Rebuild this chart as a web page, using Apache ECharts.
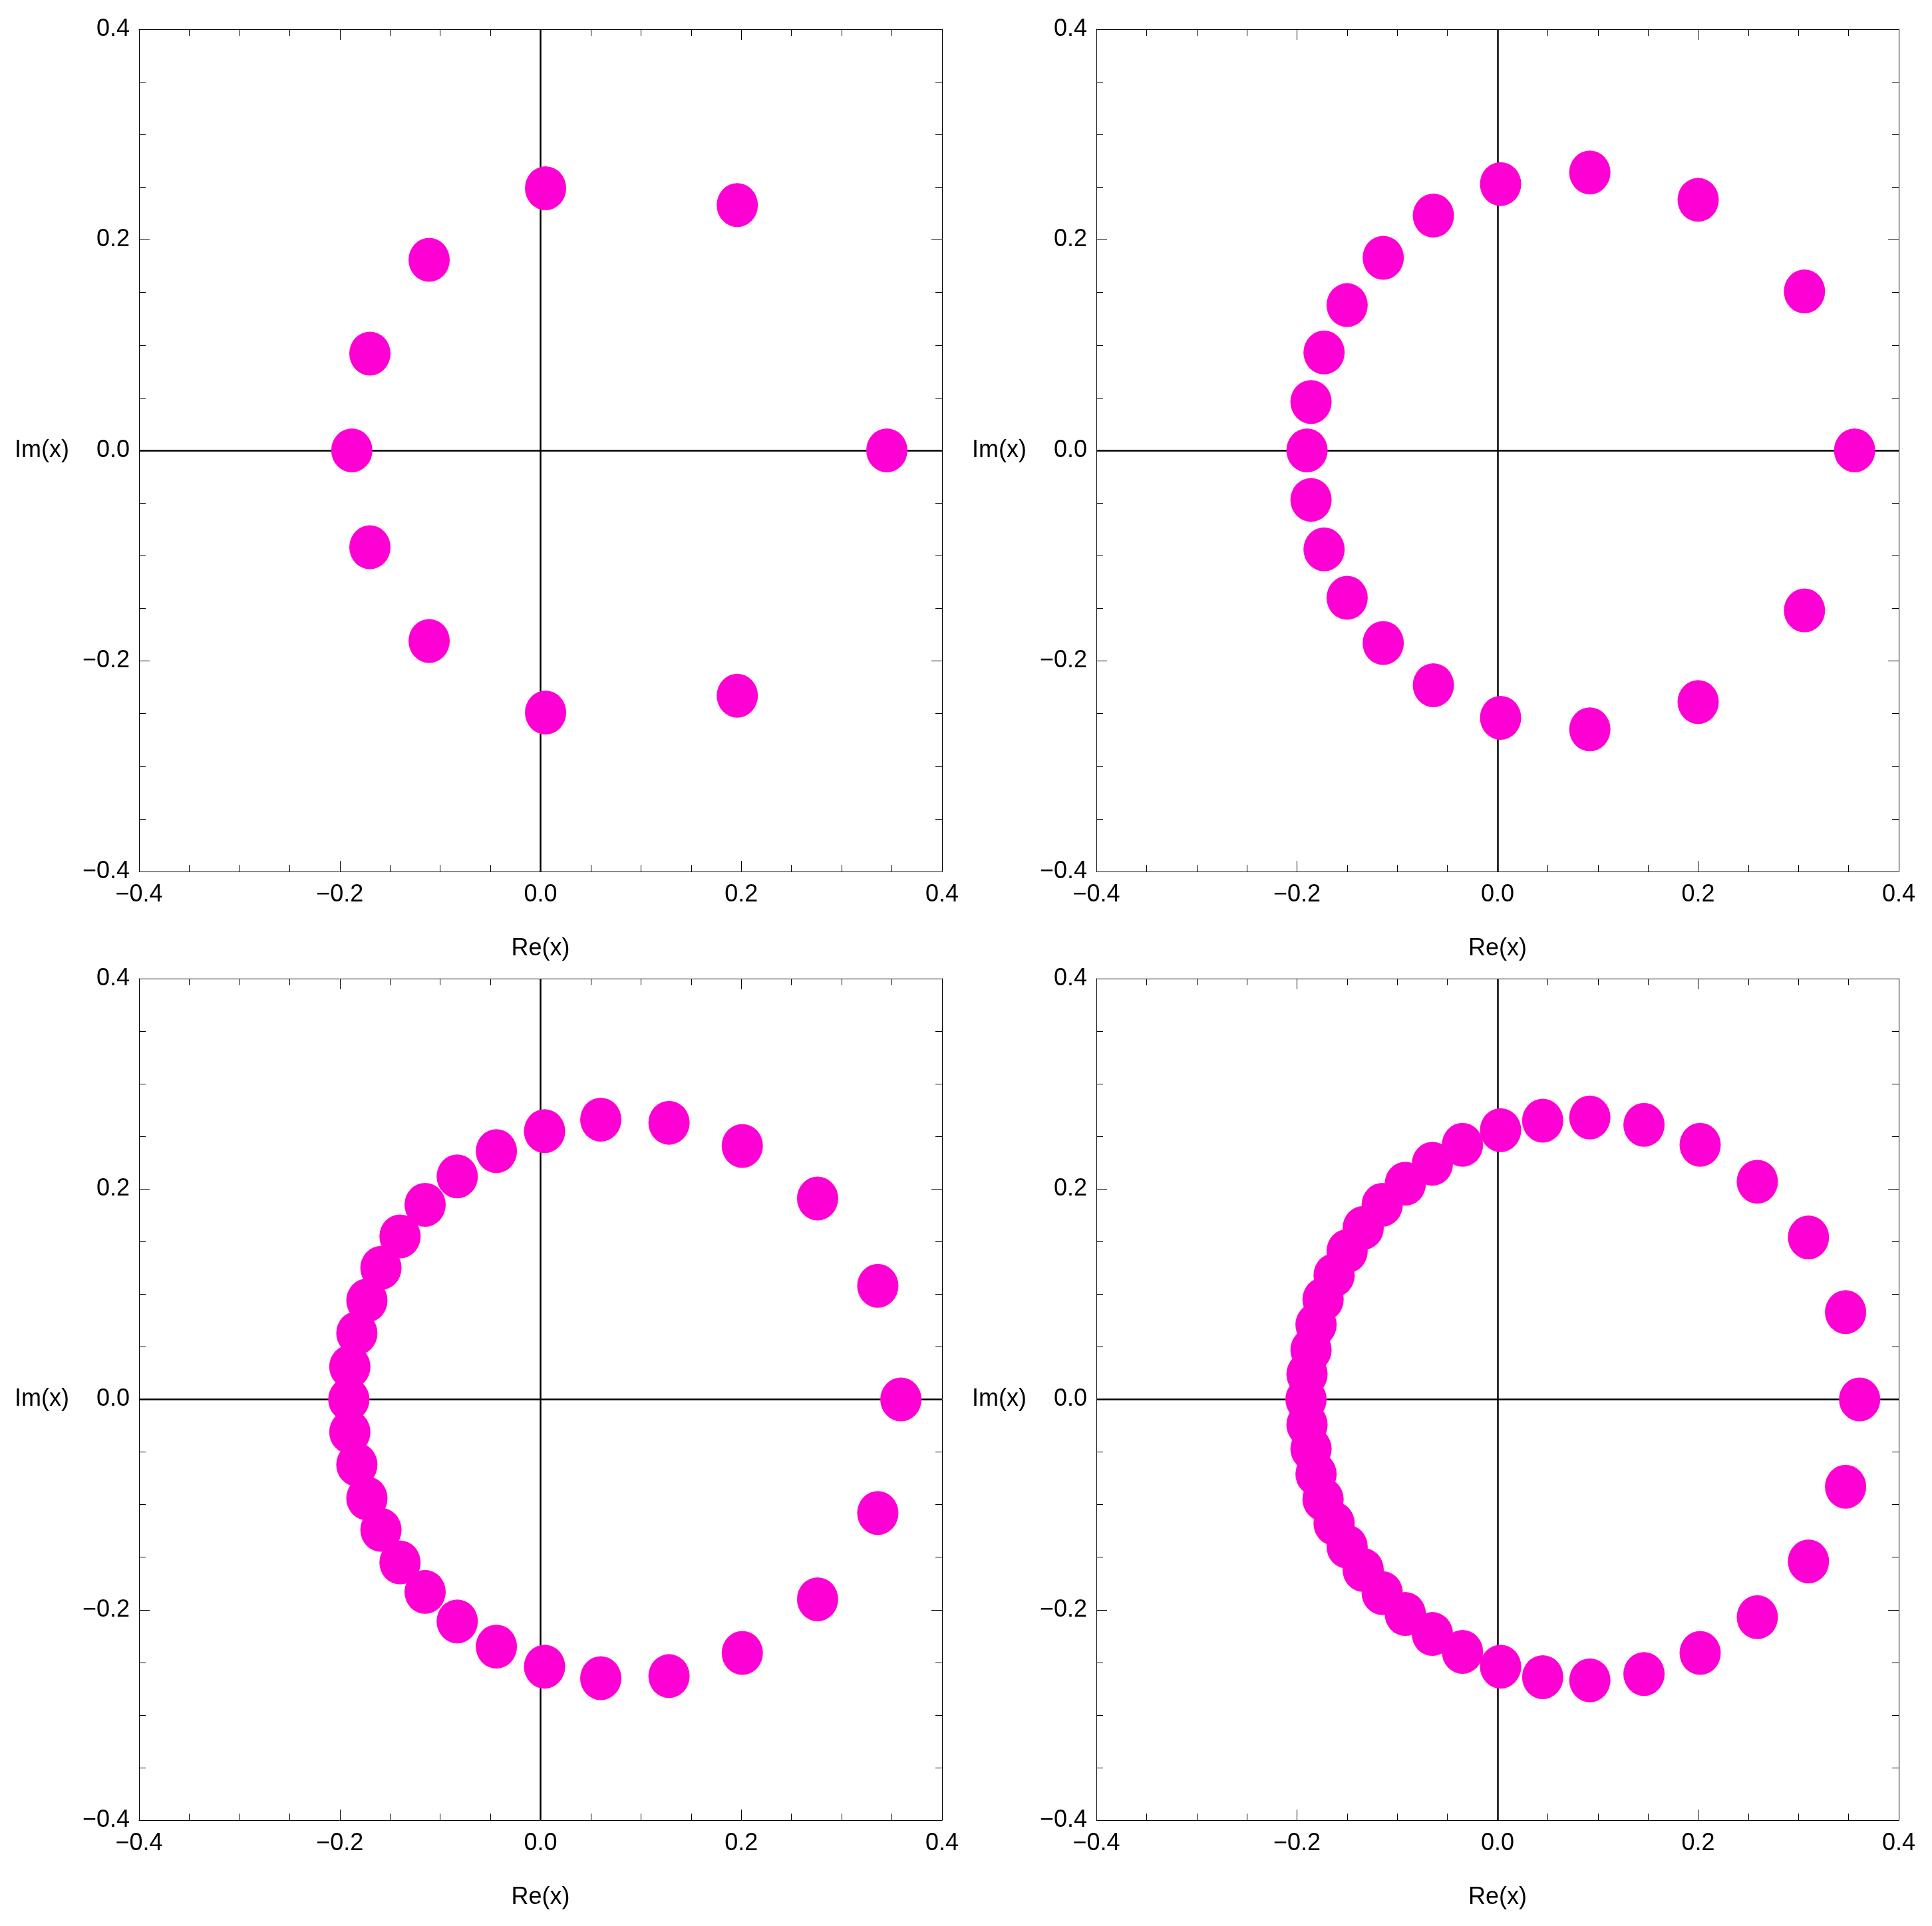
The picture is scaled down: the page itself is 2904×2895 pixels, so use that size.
<!DOCTYPE html>
<html>
<head>
<meta charset="utf-8">
<script src="https://cdn.jsdelivr.net/npm/echarts@6/dist/echarts.min.js"></script>
<style>
html,body{margin:0;padding:0;background:#fff;}
#chart{width:2904px;height:2895px;}
</style>
</head>
<body>
<div id="chart"></div>
<script>
// ---- data ----
const axisTicks = [-0.4, -0.2, 0.0, 0.2, 0.4];
const xLabel = 'Re(x)';
const yLabel = 'Im(x)';

const re10 = [0.345, 0.196, 0.005, -0.111, -0.170, -0.188, -0.170, -0.111, 0.005, 0.196];
const im10 = [0.000, 0.233, 0.249, 0.181, 0.092, 0.000, -0.092, -0.181, -0.249, -0.233];

const re20 = [0.356, 0.306, 0.200, 0.092, 0.003, -0.064, -0.114, -0.150, -0.173, -0.186, -0.190,
              -0.186, -0.173, -0.150, -0.114, -0.064, 0.003, 0.092, 0.200, 0.306];
const im20 = [0.000, 0.151, 0.238, 0.264, 0.253, 0.223, 0.183, 0.138, 0.093, 0.046, 0.000,
              -0.047, -0.094, -0.140, -0.183, -0.223, -0.254, -0.265, -0.239, -0.152];

const re30 = [0.359, 0.336, 0.276, 0.201, 0.128, 0.060, 0.004, -0.044, -0.083, -0.115, -0.140,
              -0.159, -0.173, -0.183, -0.190, -0.191, -0.190, -0.183, -0.173, -0.159, -0.140,
              -0.115, -0.083, -0.044, 0.004, 0.060, 0.128, 0.201, 0.276, 0.336];
const im30 = [0.000, 0.108, 0.191, 0.241, 0.263, 0.266, 0.255, 0.236, 0.212, 0.185, 0.155,
              0.125, 0.094, 0.063, 0.031, 0.000, -0.031, -0.062, -0.094, -0.124, -0.155,
              -0.183, -0.211, -0.235, -0.254, -0.265, -0.263, -0.241, -0.190, -0.108];

const re40 = [0.361, 0.347, 0.310, 0.259, 0.202, 0.146, 0.092, 0.045, 0.003, -0.035, -0.065,
              -0.092, -0.115, -0.134, -0.150, -0.163, -0.174, -0.181, -0.186, -0.190, -0.191,
              -0.190, -0.186, -0.181, -0.174, -0.163, -0.150, -0.134, -0.115, -0.092, -0.065,
              -0.035, 0.003, 0.045, 0.092, 0.146, 0.202, 0.259, 0.310, 0.347];
const im40 = [0.000, 0.083, 0.154, 0.207, 0.242, 0.261, 0.268, 0.265, 0.256, 0.242, 0.224,
              0.205, 0.185, 0.163, 0.141, 0.118, 0.095, 0.071, 0.047, 0.024, 0.000,
              -0.024, -0.047, -0.071, -0.095, -0.118, -0.140, -0.162, -0.184, -0.204, -0.223,
              -0.240, -0.254, -0.264, -0.267, -0.261, -0.241, -0.207, -0.154, -0.083];

const panels = [[re10, im10], [re20, im20], [re30, im30], [re40, im40]];

// ---- layout / style ----
const FONT = '"Liberation Sans", Arial, sans-serif';
const gridBoxes = [
  {left: 209, top: 44, width: 1207, height: 1266},
  {left: 1648, top: 44, width: 1206, height: 1266},
  {left: 209, top: 1471, width: 1207, height: 1265},
  {left: 1648, top: 1471, width: 1206, height: 1265}
];
const DOT = '#ff00d4';
const frameLine = {color: '#000', width: 1};

function fmt(v) {
  if (Math.abs(v) < 1e-9) return '0.0';
  return (v < 0 ? '\u2212' : '') + Math.abs(v).toFixed(1);
}

function baseAxis(gi, pos, showLabel) {
  return {
    type: 'value', gridIndex: gi, position: pos,
    min: axisTicks[0], max: axisTicks[axisTicks.length - 1],
    interval: axisTicks[1] - axisTicks[0],
    axisLine: {show: true, onZero: false, lineStyle: frameLine},
    axisTick: {show: true, inside: true, length: 16, lineStyle: frameLine},
    minorTick: {show: true, splitNumber: 4, length: 10, lineStyle: frameLine},
    splitLine: {show: false}, minorSplitLine: {show: false},
    axisLabel: {show: showLabel, fontSize: 36, color: '#000', fontFamily: FONT,
                formatter: fmt, showMinLabel: true, showMaxLabel: true, hideOverlap: false}
  };
}

const grid = [], xAxis = [], yAxis = [], series = [];
gridBoxes.forEach((b, i) => {
  grid.push(Object.assign({containLabel: false, show: false}, b));
  const xb = baseAxis(i, 'bottom', true);
  xb.axisLabel.margin = 17;
  Object.assign(xb, {name: xLabel, nameLocation: 'middle', nameGap: 98,
    nameTextStyle: {fontSize: 36, color: '#000', fontFamily: FONT}});
  const xt = baseAxis(i, 'top', false);
  const yl = baseAxis(i, 'left', true);
  yl.axisLabel.margin = 14;
  Object.assign(yl, {name: yLabel, nameLocation: 'middle', nameGap: 105, nameRotate: 0,
    nameTextStyle: {fontSize: 36, color: '#000', fontFamily: FONT}});
  const yr = baseAxis(i, 'right', false);
  xAxis.push(xb, xt);
  yAxis.push(yl, yr);
  const xi = 2 * i, yi = 2 * i;
  // zero axes
  series.push({
    type: 'scatter', xAxisIndex: xi, yAxisIndex: yi, data: [], z: 1, silent: true,
    markLine: {silent: true, symbol: 'none', animation: false,
      label: {show: false},
      lineStyle: {color: '#000', width: 2.5, type: 'solid'},
      data: [{yAxis: 0}, {xAxis: 0}]}
  });
  const [re, im] = panels[i];
  series.push({
    type: 'scatter', xAxisIndex: xi, yAxisIndex: yi, z: 5,
    symbol: 'circle', symbolSize: [62, 66],
    itemStyle: {color: DOT, opacity: 1},
    data: re.map((r, k) => [r, im[k]])
  });
});

const chart = echarts.init(document.getElementById('chart'), null, {renderer: 'canvas'});
chart.setOption({
  backgroundColor: '#fff',
  animation: false,
  grid, xAxis, yAxis, series
});
</script>
</body>
</html>
